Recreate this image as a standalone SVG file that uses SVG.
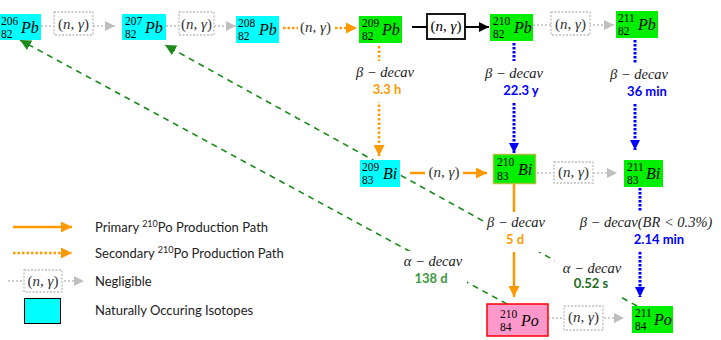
<svg xmlns="http://www.w3.org/2000/svg" width="721" height="340" viewBox="0 0 721 340">
<style>
.bg{fill:#ffffff}
.cyan{fill:#00ffff}
.green{fill:#00ee00}
.pink{fill:#ff99cc;stroke:#ff0000;stroke-width:1.5}
.num{font-family:"Liberation Serif",serif;font-size:11.5px;fill:#000}
.sym{font-family:"Liberation Serif",serif;font-size:16px;font-style:italic;fill:#000}
.ng{font-family:"Liberation Serif",serif;font-size:15px;fill:#333;text-anchor:middle}
.ngb{font-family:"Liberation Serif",serif;font-size:15px;fill:#000;text-anchor:middle}
.dec{font-family:"Liberation Serif",serif;font-size:14.5px;font-style:italic;fill:#222;text-anchor:middle}
.hl{font-family:Lato,"Liberation Sans",sans-serif;font-size:13px;font-weight:bold;text-anchor:middle}
.leg{font-family:Lato,"Liberation Sans",sans-serif;font-size:13px;fill:#222}
.gray{stroke:#bfbfbf;stroke-width:1.5;stroke-dasharray:2,2;fill:none}
.graybox{stroke:#bfbfbf;stroke-width:1.3;stroke-dasharray:2,1.5;fill:#fff}
.orsol{stroke:#ff9900;stroke-width:2.5;fill:none}
.ordot{stroke:#ff9900;stroke-width:2.5;stroke-dasharray:2.5,2;fill:none}
.bldot{stroke:#0000ff;stroke-width:3;stroke-dasharray:2.5,1.5;fill:none}
.grdash{stroke:#1a8a1a;stroke-width:1.6;stroke-dasharray:6,5;fill:none}
.blk{stroke:#000;stroke-width:1.8;fill:none}
.it{font-style:italic}
</style>
<defs>
<marker id="aGray" viewBox="0 0 10 10" refX="10" refY="5" markerWidth="10" markerHeight="10" markerUnits="userSpaceOnUse" orient="auto"><path d="M0,0 L10,5 L0,10 z" fill="#bfbfbf" stroke="none"/></marker>
<marker id="aOr" viewBox="0 0 10 10" refX="10" refY="5" markerWidth="11" markerHeight="11" markerUnits="userSpaceOnUse" orient="auto"><path d="M0,0 L10,5 L0,10 z" fill="#ff9900" stroke="none"/></marker>
<marker id="aBl" viewBox="0 0 10 10" refX="10" refY="5" markerWidth="10" markerHeight="10" markerUnits="userSpaceOnUse" orient="auto"><path d="M0,0 L10,5 L0,10 z" fill="#0000ff" stroke="none"/></marker>
<marker id="aBk" viewBox="0 0 10 10" refX="10" refY="5" markerWidth="10" markerHeight="10" markerUnits="userSpaceOnUse" orient="auto"><path d="M0,0 L10,5 L0,10 z" fill="#000" stroke="none"/></marker>
<marker id="aGr" viewBox="0 0 10 10" refX="10" refY="5" markerWidth="11" markerHeight="11" markerUnits="userSpaceOnUse" orient="auto"><path d="M0,0 L10,5 L0,10 z" fill="#1a8a1a" stroke="none"/></marker>
</defs>
<rect class="bg" x="0" y="0" width="721" height="340"/>

<g id="connectors">
  <line class="grdash" x1="507" y1="304" x2="20" y2="40" marker-end="url(#aGr)"/>
  <line class="grdash" x1="637" y1="306" x2="165" y2="45" marker-end="url(#aGr)"/>

  <line class="gray" x1="41" y1="26" x2="115" y2="26" marker-end="url(#aGray)"/>
  <rect class="graybox" x="54" y="12" width="39" height="23"/>
  <text class="ng" x="73.5" y="29">(<tspan class="it">n</tspan>, <tspan class="it">γ</tspan>)</text>

  <line class="gray" x1="166" y1="26" x2="236" y2="26" marker-end="url(#aGray)"/>
  <rect class="graybox" x="179" y="12" width="35" height="23"/>
  <text class="ng" x="196.5" y="29">(<tspan class="it">n</tspan>, <tspan class="it">γ</tspan>)</text>

  <line class="ordot" x1="283" y1="28" x2="298" y2="28"/>
  <line class="ordot" x1="335" y1="28" x2="357" y2="28" marker-end="url(#aOr)"/>
  <text class="ng" x="315.5" y="32">(<tspan class="it">n</tspan>, <tspan class="it">γ</tspan>)</text>

  <line class="blk" x1="412" y1="27" x2="489" y2="27" marker-end="url(#aBk)"/>
  <rect x="427" y="14" width="38" height="25" fill="#fff" stroke="#000" stroke-width="1.8"/>
  <text class="ngb" x="446" y="31">(<tspan class="it">n</tspan>, <tspan class="it">γ</tspan>)</text>

  <line class="gray" x1="533" y1="25" x2="614" y2="25" marker-end="url(#aGray)"/>
  <rect class="graybox" x="551" y="12" width="39" height="23"/>
  <text class="ng" x="570.5" y="29">(<tspan class="it">n</tspan>, <tspan class="it">γ</tspan>)</text>

  <line class="orsol" x1="410" y1="173" x2="425" y2="173"/>
  <line class="orsol" x1="463" y1="173" x2="487" y2="173" marker-end="url(#aOr)"/>
  <text class="ng" x="444" y="177">(<tspan class="it">n</tspan>, <tspan class="it">γ</tspan>)</text>

  <line class="gray" x1="537" y1="173" x2="617" y2="173" marker-end="url(#aGray)"/>
  <rect class="graybox" x="554" y="162" width="39" height="21"/>
  <text class="ng" x="573.5" y="177">(<tspan class="it">n</tspan>, <tspan class="it">γ</tspan>)</text>

  <line class="gray" x1="548" y1="318" x2="624" y2="318" marker-end="url(#aGray)"/>
  <rect class="graybox" x="564" y="306" width="39" height="24"/>
  <text class="ng" x="583.5" y="322">(<tspan class="it">n</tspan>, <tspan class="it">γ</tspan>)</text>

  <line class="ordot" x1="379" y1="46" x2="379" y2="156" marker-end="url(#aOr)"/>
  <rect class="bg" x="350" y="61" width="66" height="41"/>
  <text class="dec" x="385" y="77">β − decav</text>
  <text class="hl" x="387" y="94" fill="#ff9900">3.3 h</text>

  <line class="bldot" x1="514" y1="43" x2="514" y2="153" marker-end="url(#aBl)"/>
  <rect class="bg" x="484" y="61" width="62" height="41"/>
  <text class="dec" x="514" y="78">β − decav</text>
  <text class="hl" x="521" y="95" fill="#0000ff">22.3 y</text>

  <line class="bldot" x1="635" y1="40" x2="635" y2="150" marker-end="url(#aBl)"/>
  <rect class="bg" x="606" y="63" width="66" height="40"/>
  <text class="dec" x="639" y="79">β − decav</text>
  <text class="hl" x="647" y="96" fill="#0000ff">36 min</text>

  <line class="orsol" x1="514" y1="184" x2="514" y2="297" marker-end="url(#aOr)"/>
  <rect class="bg" x="486" y="212" width="60" height="40"/>
  <text class="dec" x="516" y="227">β − decav</text>
  <text class="hl" x="515" y="244" fill="#ff9900">5 d</text>

  <line class="bldot" x1="640" y1="188" x2="640" y2="297" marker-end="url(#aBl)"/>
  <rect class="bg" x="578" y="212" width="136" height="40"/>
  <text class="dec" x="646" y="227">β − decav(<tspan font-style="italic">BR</tspan> &lt; 0.3%)</text>
  <text class="hl" x="659" y="244" fill="#0000ff">2.14 min</text>

  <rect class="bg" x="402" y="251" width="65" height="36"/>
  <text class="dec" x="433" y="266">α − decav</text>
  <text class="hl" x="431" y="283" fill="#3c9a3c">138 d</text>

  <rect class="bg" x="555" y="258" width="69" height="38"/>
  <text class="dec" x="592" y="273">α − decav</text>
  <text class="hl" x="591" y="288" fill="#1e6e1e">0.52 s</text>
</g>

<g id="Pb206">
  <rect class="cyan" x="0" y="14" width="41" height="26"/>
  <text class="num" x="1" y="24.5">206</text><text class="num" x="1" y="38">82</text>
  <text class="sym" x="21" y="33">Pb</text>
</g>
<g id="Pb207">
  <rect class="cyan" x="122" y="14" width="44" height="26"/>
  <text class="num" x="125" y="24.5">207</text><text class="num" x="125" y="38">82</text>
  <text class="sym" x="145" y="33">Pb</text>
</g>
<g id="Pb208">
  <rect class="cyan" x="236" y="16" width="43" height="27"/>
  <text class="num" x="238" y="26.5">208</text><text class="num" x="238" y="40">82</text>
  <text class="sym" x="259" y="35">Pb</text>
</g>
<g id="Pb209">
  <rect class="green" x="359" y="16" width="43" height="27"/>
  <text class="num" x="362" y="26.5">209</text><text class="num" x="362" y="40">82</text>
  <text class="sym" x="382" y="35">Pb</text>
</g>
<g id="Pb210">
  <rect class="green" x="490" y="14" width="43" height="27"/>
  <text class="num" x="493" y="24.5">210</text><text class="num" x="493" y="38">82</text>
  <text class="sym" x="514" y="33">Pb</text>
</g>
<g id="Pb211">
  <rect class="green" x="616" y="11" width="42" height="27"/>
  <text class="num" x="618" y="21.5">211</text><text class="num" x="618" y="35">82</text>
  <text class="sym" x="638" y="30">Pb</text>
</g>
<g id="Bi209">
  <rect class="cyan" x="360" y="160" width="40" height="27"/>
  <text class="num" x="362" y="170.5">209</text><text class="num" x="362" y="184">83</text>
  <text class="sym" x="383" y="179">Bi</text>
</g>
<g id="Bi210">
  <rect class="green" x="493.5" y="154.5" width="42" height="29" stroke="#a3c43a" stroke-width="1.5"/>
  <text class="num" x="497" y="166">210</text><text class="num" x="497" y="179.5">83</text>
  <text class="sym" x="518" y="175">Bi</text>
</g>
<g id="Bi211">
  <rect class="green" x="624" y="160" width="39" height="27"/>
  <text class="num" x="627" y="170.5">211</text><text class="num" x="627" y="184">83</text>
  <text class="sym" x="646" y="179">Bi</text>
</g>
<g id="Po210">
  <rect class="pink" x="487" y="304" width="61" height="32"/>
  <text class="num" x="500" y="317.5">210</text><text class="num" x="500" y="331">84</text>
  <text class="sym" x="521" y="326">Po</text>
</g>
<g id="Po211">
  <rect class="green" x="632" y="306" width="41" height="27"/>
  <text class="num" x="635" y="316.5">211</text><text class="num" x="635" y="330">84</text>
  <text class="sym" x="654" y="325">Po</text>
</g>

<g id="legend">
  <line class="orsol" x1="13" y1="227" x2="72" y2="227" marker-end="url(#aOr)"/>
  <text class="leg" x="95" y="232">Primary <tspan font-size="9" dy="-5">210</tspan><tspan dy="5">Po Production Path</tspan></text>
  <line class="ordot" x1="13" y1="253" x2="72" y2="253" marker-end="url(#aOr)"/>
  <text class="leg" x="95" y="258">Secondary <tspan font-size="9" dy="-5">210</tspan><tspan dy="5">Po Production Path</tspan></text>
  <line class="gray" x1="8" y1="281" x2="84" y2="281" marker-end="url(#aGray)"/>
  <rect class="graybox" x="24" y="270" width="38" height="22"/>
  <text class="ng" x="43" y="286">(<tspan class="it">n</tspan>, <tspan class="it">γ</tspan>)</text>
  <text class="leg" x="95" y="286">Negligible</text>
  <rect x="24.5" y="298.5" width="36" height="25" fill="#00ffff" stroke="#000" stroke-width="1"/>
  <text class="leg" x="95" y="315">Naturally Occuring Isotopes</text>
</g>
</svg>
